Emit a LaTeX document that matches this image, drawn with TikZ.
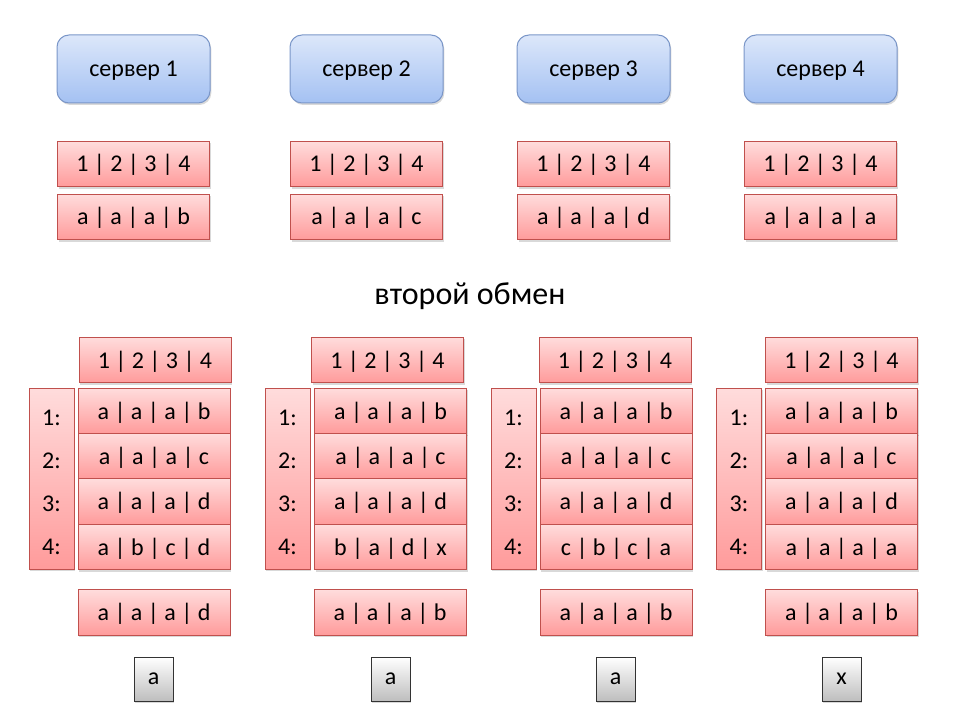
\documentclass[tikz,border=0pt]{standalone}
\usepackage{fontspec}
\setmainfont{Carlito}
\usetikzlibrary{shadows}

\definecolor{srvtop}{RGB}{220,231,250}
\definecolor{srvbot}{RGB}{164,193,242}
\definecolor{srvline}{RGB}{122,150,200}
\definecolor{celltop}{RGB}{255,220,220}
\definecolor{cellbot}{RGB}{255,155,155}
\definecolor{cellline}{RGB}{192,80,77}
\definecolor{votebot}{RGB}{190,190,190}

\begin{document}
\begin{tikzpicture}[x=0.75pt, y=-0.75pt,
    every node/.style={inner sep=0pt, font=\fontsize{18}{21.6}\selectfont},
    server/.style={draw=srvline, line width=0.75pt, rounded corners=9pt,
        top color=srvtop, bottom color=srvbot, minimum width=114.75pt, minimum height=51pt,
        text height=13pt, text depth=1pt,
        drop shadow={shadow xshift=1pt, shadow yshift=-1.5pt, opacity=0.3}},
    cell/.style={draw=cellline, line width=0.6pt, top color=celltop, bottom color=cellbot,
        minimum width=114pt, minimum height=34pt, text height=13pt, text depth=1pt,
        drop shadow={shadow xshift=1pt, shadow yshift=-1.5pt, opacity=0.3}},
    idcol/.style={cell, minimum width=33.75pt, minimum height=135.75pt, align=center,
        text height=114.5pt, text depth=0pt, font=\fontsize{18}{32.25}\selectfont},
    vote/.style={draw=black!80, line width=0.75pt, top color=white, bottom color=votebot,
        minimum width=29.25pt, minimum height=33pt,
        drop shadow={shadow xshift=1pt, shadow yshift=-1.5pt, opacity=0.3}}]
  \useasboundingbox (0,0) rectangle (960,720);

        % servers and their own vectors
        \node[server] (s1) at (133.5,69) {сервер 1};
        \node[server] (s2) at (366.5,69) {сервер 2};
        \node[server] (s3) at (593.5,69) {сервер 3};
        \node[server] (s4) at (820.5,69) {сервер 4};

        \node[cell] (h1) at (133.5,164) {1 | 2 | 3 | 4};  \node[cell] (v1) at (133.5,217) {a | a | a | b};
        \node[cell] (h2) at (366.5,164) {1 | 2 | 3 | 4};  \node[cell] (v2) at (366.5,217) {a | a | a | c};
        \node[cell] (h3) at (593.5,164) {1 | 2 | 3 | 4};  \node[cell] (v3) at (593.5,217) {a | a | a | d};
        \node[cell] (h4) at (820.5,164) {1 | 2 | 3 | 4};  \node[cell] (v4) at (820.5,217) {a | a | a | a};

        \node[font=\fontsize{24}{28}\selectfont] (title) at (470,296) {второй обмен};

        % server 1 after the exchange
        \node[cell] (ah1) at (155,360) {1 | 2 | 3 | 4};
        \node[idcol] (ac1) at (51.5,478.5) {1:\\2:\\3:\\4:};
        \node[cell] (ar11) at (154,411) {a | a | a | b};
        \node[cell] (ar12) at (154,456) {a | a | a | c};
        \node[cell] (ar13) at (154,501.5) {a | a | a | d};
        \node[cell] (ar14) at (154,547) {a | b | c | d};
        \node[cell] (ares1) at (154,612.5) {a | a | a | d};
        \node[vote] (avote1) at (153.5,679) {a};

        % server 2 after the exchange
        \node[cell] (ah2) at (387.5,360) {1 | 2 | 3 | 4};
        \node[idcol] (ac2) at (287.5,478.5) {1:\\2:\\3:\\4:};
        \node[cell] (ar21) at (390.5,411) {a | a | a | b};
        \node[cell] (ar22) at (390.5,456) {a | a | a | c};
        \node[cell] (ar23) at (390.5,501.5) {a | a | a | d};
        \node[cell] (ar24) at (390.5,547) {b | a | d | x};
        \node[cell] (ares2) at (390,612.5) {a | a | a | b};
        \node[vote] (avote2) at (390.5,679) {a};

        % server 3 after the exchange
        \node[cell] (ah3) at (615,360) {1 | 2 | 3 | 4};
        \node[idcol] (ac3) at (513.5,478.5) {1:\\2:\\3:\\4:};
        \node[cell] (ar31) at (616,411) {a | a | a | b};
        \node[cell] (ar32) at (616,456) {a | a | a | c};
        \node[cell] (ar33) at (616,501.5) {a | a | a | d};
        \node[cell] (ar34) at (616,547) {c | b | c | a};
        \node[cell] (ares3) at (616,612.5) {a | a | a | b};
        \node[vote] (avote3) at (615.5,679) {a};

        % server 4 after the exchange
        \node[cell] (ah4) at (841.5,360) {1 | 2 | 3 | 4};
        \node[idcol] (ac4) at (739,478.5) {1:\\2:\\3:\\4:};
        \node[cell] (ar41) at (841.5,411) {a | a | a | b};
        \node[cell] (ar42) at (841.5,456) {a | a | a | c};
        \node[cell] (ar43) at (841.5,501.5) {a | a | a | d};
        \node[cell] (ar44) at (841.5,547) {a | a | a | a};
        \node[cell] (ares4) at (841.5,612.5) {a | a | a | b};
        \node[vote] (avote4) at (841.5,679) {x};

    \end{tikzpicture}
\end{document}
